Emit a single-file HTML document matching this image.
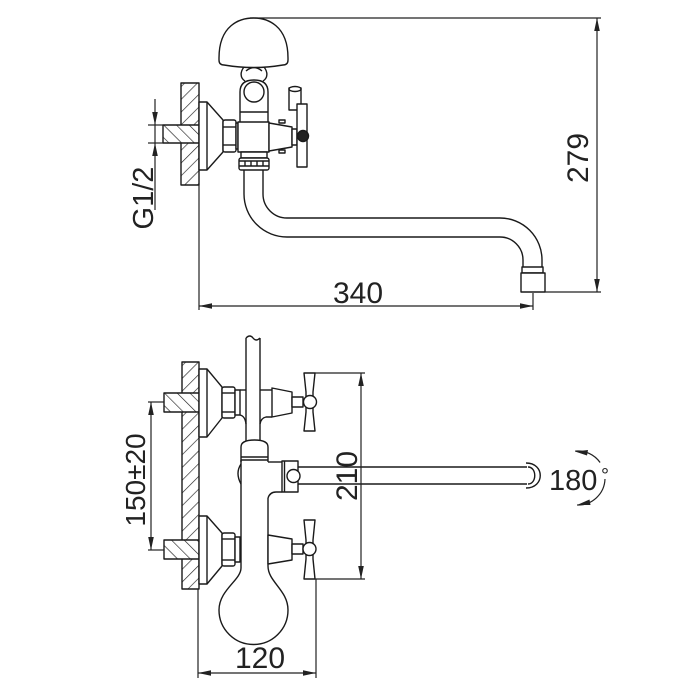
<!DOCTYPE html>
<html><head><meta charset="utf-8">
<style>
html,body{margin:0;padding:0;background:#fff;}
svg{display:block;}
text{font-family:"Liberation Sans",Arial,sans-serif;fill:#222;}
</style></head><body>
<svg width="700" height="700" viewBox="0 0 700 700" xmlns="http://www.w3.org/2000/svg">
<defs>
<pattern id="hw" patternUnits="userSpaceOnUse" width="9" height="9" patternTransform="rotate(45)">
<rect width="9" height="9" fill="#fff"/>
<line x1="0" y1="0" x2="0" y2="9" stroke="#222" stroke-width="1.3"/>
</pattern>
<pattern id="hs" patternUnits="userSpaceOnUse" width="9" height="9" patternTransform="rotate(-45)">
<rect width="9" height="9" fill="#fff"/>
<line x1="0" y1="0" x2="0" y2="9" stroke="#222" stroke-width="1.3"/>
</pattern>
</defs>

<g fill="none" stroke="#1a1a1a" stroke-width="1.4" stroke-linejoin="round">
<!-- ===== TOP VIEW ===== -->
<!-- wall plate & stub -->
<rect x="181" y="83" width="18" height="102" fill="url(#hw)"/>
<rect x="163" y="125" width="36" height="18" fill="url(#hs)"/>
<!-- flange -->
<polygon points="199,102 207,102 223,120 223,152 207,170 199,170" fill="#fff"/>
<line x1="207" y1="102" x2="207" y2="170"/>
<!-- hex nut -->
<rect x="223" y="120" width="13" height="32" rx="2" fill="#fff"/>
<line x1="223" y1="127" x2="236" y2="127"/>
<line x1="223" y1="145" x2="236" y2="145"/>
<rect x="236" y="123" width="2" height="26" fill="#fff"/>
<!-- upper tube -->
<path d="M240,122 L240,92 Q240,80 254,80 Q268,80 268,92 L268,122" fill="#fff"/>
<line x1="240" y1="112" x2="268" y2="112"/>
<circle cx="254" cy="92" r="10" fill="#fff"/>
<!-- neck -->
<path d="M244,67 C240,72 240,78 245,81"/>
<path d="M264,67 C268,72 268,78 263,81"/>
<path d="M246,71 Q254,64 262,71"/>
<!-- dome -->
<path d="M219,58 C219,25 240,18 253.5,18 C267,18 288,25 288,58 L288,60 Q288,65 283,65 Q253.5,70 224,65 Q219,65 219,60 Z" fill="#fff"/>
<!-- body -->
<rect x="238" y="122" width="31" height="30" fill="#fff"/>
<rect x="241" y="152" width="26" height="6" fill="#fff"/>
<!-- ribbed nut -->
<rect x="239" y="158" width="30" height="12" rx="2" fill="#fff"/>
<line x1="239" y1="161" x2="269" y2="161"/>
<line x1="239" y1="166" x2="269" y2="166"/>
<line x1="245" y1="161" x2="245" y2="166"/>
<line x1="251" y1="161" x2="251" y2="166"/>
<line x1="257" y1="161" x2="257" y2="166"/>
<line x1="263" y1="161" x2="263" y2="166"/>
<!-- pipe -->
<path d="M244,170 L244,194 A43,43 0 0 0 287,237 L500,237 A23,23 0 0 1 523,260 L523,267"/>
<path d="M263,170 L263,194 A24,24 0 0 0 287,218 L500,218 A42,42 0 0 1 542,260 L542,267"/>
<rect x="522" y="267" width="21" height="6" fill="#fff"/>
<rect x="521" y="273" width="24" height="19" fill="#fff"/>
<!-- handle top view -->
<polygon points="269,123 292,127 292,147 269,151" fill="#fff"/>
<rect x="279" y="120" width="6" height="3" fill="#fff"/>
<rect x="279" y="150" width="6" height="3" fill="#fff"/>
<rect x="292" y="129" width="5" height="16" fill="#fff"/>
<rect x="289" y="88" width="12" height="22" fill="#fff"/>
<ellipse cx="295" cy="89" rx="6" ry="2.5" fill="#fff"/>
<rect x="297" y="104" width="10" height="63" fill="#fff"/>
<circle cx="303" cy="136" r="5.5" fill="#222"/>

<!-- ===== BOTTOM VIEW ===== -->
<rect x="182" y="362" width="17" height="227" fill="url(#hw)"/>
<rect x="164" y="393" width="35" height="19" fill="url(#hs)"/>
<rect x="164" y="540" width="35" height="19" fill="url(#hs)"/>
<!-- upper flange -->
<polygon points="199,369 207,369 222,387 222,418 207,437 199,437" fill="#fff"/>
<line x1="207" y1="369" x2="207" y2="437"/>
<rect x="222" y="387" width="13" height="31" rx="2" fill="#fff"/>
<line x1="222" y1="393" x2="235" y2="393"/>
<line x1="222" y1="412" x2="235" y2="412"/>
<rect x="235" y="390" width="5" height="25" fill="#fff"/>
<!-- lower flange -->
<polygon points="199,516 207,516 222,533 222,566 207,584 199,584" fill="#fff"/>
<line x1="207" y1="516" x2="207" y2="584"/>
<rect x="222" y="533" width="13" height="33" rx="2" fill="#fff"/>
<line x1="222" y1="539" x2="235" y2="539"/>
<line x1="222" y1="560" x2="235" y2="560"/>
<rect x="235" y="537" width="5" height="25" fill="#fff"/>
<!-- riser -->
<line x1="246" y1="338" x2="246" y2="442"/>
<line x1="260" y1="338" x2="260" y2="442"/>
<path d="M246,338 Q250,334 253,338 Q256,342 260,338"/>
<!-- T piece -->
<line x1="240" y1="390" x2="246" y2="390"/>
<line x1="260" y1="390" x2="272" y2="390"/>
<path d="M240,415 Q245,416 246,424"/>
<path d="M272,417 L266,417 Q261,418 260,424"/>
<!-- upper handle -->
<polygon points="272,388 292,392 292,413 272,417" fill="#fff"/>
<rect x="292" y="397" width="11" height="10" fill="#fff"/>
<path d="M304,373 L315,373 L313,392 L313,412 L315,431 L304,431 L306,412 L306,392 Z" fill="#fff"/>
<circle cx="310" cy="402" r="6.5" fill="#fff"/>
<!-- body -->
<path d="M241,462 L241,447 Q241,440 254.5,440 Q268,440 268,447 L268,462" fill="#fff"/>
<line x1="241" y1="457" x2="268" y2="457"/>
<line x1="241" y1="460" x2="268" y2="460"/>
<path d="M241,460 L241,568 C241,580 219,590 219,610 A34.5,34.5 0 0 0 288,610 C288,590 268,582 268,566 L268,498"/>
<path d="M241,464 Q235,473 241,484"/>
<!-- outlet & spout -->
<path d="M268,462 L282,462"/>
<path d="M268,498 Q270,492 276,492 L282,492"/>
<rect x="282" y="461" width="16" height="31" fill="#fff"/>
<line x1="284.5" y1="461" x2="284.5" y2="492"/>
<circle cx="293.5" cy="476" r="6.5" fill="#fff"/>
<line x1="298" y1="467" x2="527" y2="467"/>
<line x1="298" y1="484" x2="527" y2="484"/>
<path d="M526,463 C545,463 545,488 526,488"/>
<path d="M528,467 C537,467 537,484 528,484"/>
<!-- lower handle -->
<polygon points="268,535 292,539 292,560 268,564" fill="#fff"/>
<rect x="292" y="544" width="11" height="10" fill="#fff"/>
<path d="M304,520 L315,520 L313,540 L313,559 L315,579 L304,579 L306,559 L306,540 Z" fill="#fff"/>
<circle cx="309.5" cy="549" r="6.5" fill="#fff"/>
</g>

<!-- ===== DIMENSIONS ===== -->
<g fill="none" stroke="#222" stroke-width="1.2">
<!-- 279 -->
<line x1="250" y1="18" x2="601" y2="18"/>
<line x1="545" y1="292" x2="601" y2="292"/>
<line x1="597" y1="18" x2="597" y2="292"/>
<!-- 340 -->
<line x1="199" y1="185" x2="199" y2="310"/>
<line x1="533" y1="293" x2="533" y2="310"/>
<line x1="199" y1="306" x2="533" y2="306"/>
<!-- G1/2 -->
<line x1="155" y1="99" x2="155" y2="210"/>
<line x1="148" y1="125" x2="163" y2="125"/>
<line x1="148" y1="143" x2="163" y2="143"/>
<!-- 150±20 -->
<line x1="151" y1="402" x2="151" y2="550"/>
<line x1="148" y1="402" x2="164" y2="402"/>
<line x1="148" y1="550" x2="164" y2="550"/>
<!-- 210 -->
<line x1="315" y1="373" x2="365" y2="373"/>
<line x1="315" y1="579" x2="365" y2="579"/>
<line x1="361" y1="373" x2="361" y2="579"/>
<!-- 120 -->
<line x1="198" y1="589" x2="198" y2="678"/>
<line x1="316" y1="579" x2="316" y2="678"/>
<line x1="198" y1="673" x2="316" y2="673"/>
<!-- 180 arcs -->
<path d="M575.2,451.1 A27,27 0 0 1 600.1,462.5"/>
<path d="M605,479 A27,27 0 0 1 577.1,505"/>
</g>
<g fill="#222" stroke="none">
<polygon points="597,18 594.2,31 599.8,31"/>
<polygon points="597,292 594.2,279 599.8,279"/>
<polygon points="199,306 212,303.2 212,308.8"/>
<polygon points="533,306 520,303.2 520,308.8"/>
<polygon points="155,125 152.2,112 157.8,112"/>
<polygon points="155,143 152.2,156 157.8,156"/>
<polygon points="151,402 148.2,415 153.8,415"/>
<polygon points="151,550 148.2,537 153.8,537"/>
<polygon points="361,373 358.2,386 363.8,386"/>
<polygon points="361,579 358.2,566 363.8,566"/>
<polygon points="198,673 211,670.2 211,675.8"/>
<polygon points="316,673 303,670.2 303,675.8"/>
<polygon points="575,451.5 588,450 587,455.5"/>
<polygon points="577,505 589.5,499.5 590.5,505"/>
</g>

<!-- ===== TEXT ===== -->
<text x="358" y="303" font-size="30" text-anchor="middle">340</text>
<text transform="translate(588,158) rotate(-90)" font-size="30" text-anchor="middle">279</text>
<text transform="translate(153,198) rotate(-90)" font-size="29" text-anchor="middle">G1/2</text>
<text transform="translate(145,480) rotate(-90)" font-size="28" text-anchor="middle">150±20</text>
<text transform="translate(357,476) rotate(-90)" font-size="30" text-anchor="middle">210</text>
<text x="260" y="668" font-size="30" text-anchor="middle">120</text>
<text x="549" y="490" font-size="29">180</text>
<text x="601" y="482" font-size="20">°</text>
</svg>
</body></html>
